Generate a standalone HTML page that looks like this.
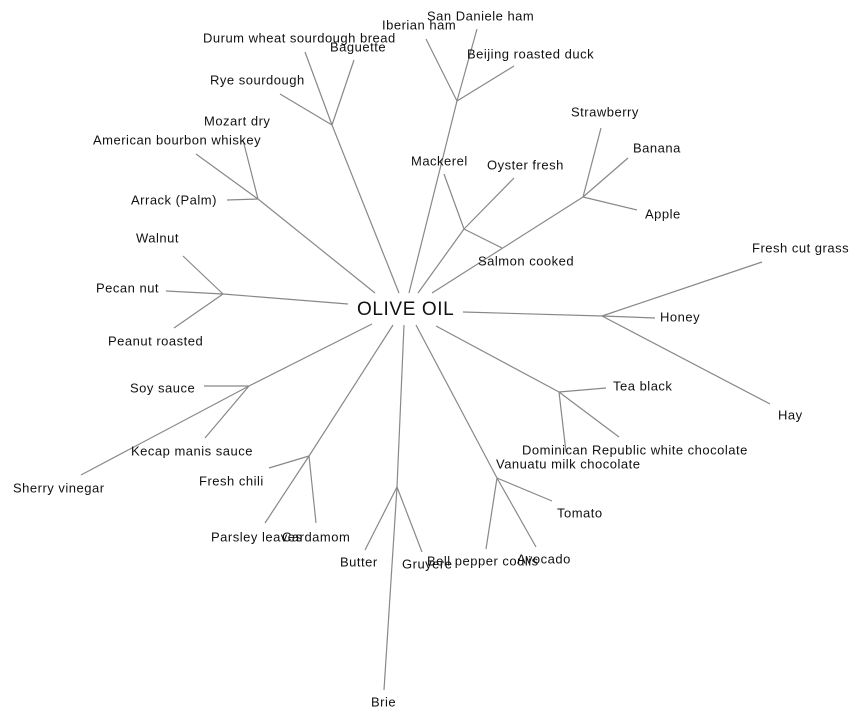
<!DOCTYPE html>
<html><head><meta charset="utf-8"><style>
html,body{margin:0;padding:0;background:#fff;}
svg{display:block;}
text{font-family:"Liberation Sans",Arial,sans-serif;font-size:13px;letter-spacing:0.5px;fill:#111;dominant-baseline:middle;}
line{stroke:#888;stroke-width:1.2;}
</style></head><body>
<svg width="864" height="720" viewBox="0 0 864 720" xmlns="http://www.w3.org/2000/svg">
<g>
<line x1="399" y1="293" x2="332" y2="125"/>
<line x1="332" y1="125" x2="305" y2="52"/>
<line x1="332" y1="125" x2="354" y2="60"/>
<line x1="332" y1="125" x2="280" y2="94"/>
<line x1="409" y1="293" x2="457" y2="101"/>
<line x1="457" y1="101" x2="426" y2="39"/>
<line x1="457" y1="101" x2="477" y2="29"/>
<line x1="457" y1="101" x2="514" y2="66"/>
<line x1="375" y1="293" x2="258" y2="199"/>
<line x1="258" y1="199" x2="243" y2="140"/>
<line x1="258" y1="199" x2="196" y2="154"/>
<line x1="258" y1="199" x2="227" y2="200"/>
<line x1="418" y1="293" x2="464" y2="229"/>
<line x1="464" y1="229" x2="444" y2="174"/>
<line x1="464" y1="229" x2="514" y2="178"/>
<line x1="464" y1="229" x2="502" y2="248"/>
<line x1="432" y1="293" x2="583" y2="197"/>
<line x1="583" y1="197" x2="601" y2="128"/>
<line x1="583" y1="197" x2="628" y2="158"/>
<line x1="583" y1="197" x2="637" y2="210"/>
<line x1="348" y1="304" x2="223" y2="294"/>
<line x1="223" y1="294" x2="183" y2="256"/>
<line x1="223" y1="294" x2="166" y2="291"/>
<line x1="223" y1="294" x2="174" y2="328"/>
<line x1="463" y1="312" x2="602" y2="316"/>
<line x1="602" y1="316" x2="762" y2="262"/>
<line x1="602" y1="316" x2="655" y2="318"/>
<line x1="602" y1="316" x2="770" y2="404"/>
<line x1="436" y1="326" x2="559" y2="392"/>
<line x1="559" y1="392" x2="606" y2="388"/>
<line x1="559" y1="392" x2="566" y2="452"/>
<line x1="559" y1="392" x2="619" y2="437"/>
<line x1="416" y1="325" x2="497" y2="478"/>
<line x1="497" y1="478" x2="552" y2="501"/>
<line x1="497" y1="478" x2="536" y2="547"/>
<line x1="497" y1="478" x2="486" y2="549"/>
<line x1="404" y1="325" x2="397" y2="487"/>
<line x1="397" y1="487" x2="365" y2="550"/>
<line x1="397" y1="487" x2="422" y2="552"/>
<line x1="397" y1="487" x2="384" y2="690"/>
<line x1="393" y1="325" x2="309" y2="456"/>
<line x1="309" y1="456" x2="269" y2="468"/>
<line x1="309" y1="456" x2="265" y2="523"/>
<line x1="309" y1="456" x2="316" y2="523"/>
<line x1="372" y1="324" x2="249" y2="386"/>
<line x1="249" y1="386" x2="204" y2="386"/>
<line x1="249" y1="386" x2="205" y2="438"/>
<line x1="249" y1="386" x2="81" y2="475"/>
</g>
<text x="357" y="310" style="font-size:19px;letter-spacing:0.6px">OLIVE OIL</text>
<text x="203" y="39">Durum wheat sourdough bread</text>
<text x="330" y="48">Baguette</text>
<text x="382" y="26">Iberian ham</text>
<text x="427" y="17">San Daniele ham</text>
<text x="467" y="55">Beijing roasted duck</text>
<text x="210" y="81">Rye sourdough</text>
<text x="204" y="122">Mozart dry</text>
<text x="93" y="141">American bourbon whiskey</text>
<text x="571" y="113">Strawberry</text>
<text x="633" y="149">Banana</text>
<text x="645" y="215">Apple</text>
<text x="411" y="162">Mackerel</text>
<text x="487" y="166">Oyster fresh</text>
<text x="478" y="262">Salmon cooked</text>
<text x="131" y="201">Arrack (Palm)</text>
<text x="136" y="239">Walnut</text>
<text x="96" y="289">Pecan nut</text>
<text x="108" y="342">Peanut roasted</text>
<text x="752" y="249">Fresh cut grass</text>
<text x="660" y="318">Honey</text>
<text x="778" y="416">Hay</text>
<text x="130" y="389">Soy sauce</text>
<text x="131" y="452">Kecap manis sauce</text>
<text x="13" y="489">Sherry vinegar</text>
<text x="613" y="387">Tea black</text>
<text x="522" y="451">Dominican Republic white chocolate</text>
<text x="496" y="465">Vanuatu milk chocolate</text>
<text x="199" y="482">Fresh chili</text>
<text x="211" y="538">Parsley leaves</text>
<text x="282" y="538">Cardamom</text>
<text x="340" y="563">Butter</text>
<text x="402" y="565">Gruyere</text>
<text x="427" y="562">Bell pepper coulis</text>
<text x="517" y="560">Avocado</text>
<text x="557" y="514">Tomato</text>
<text x="371" y="703">Brie</text>
</svg>
</body></html>
